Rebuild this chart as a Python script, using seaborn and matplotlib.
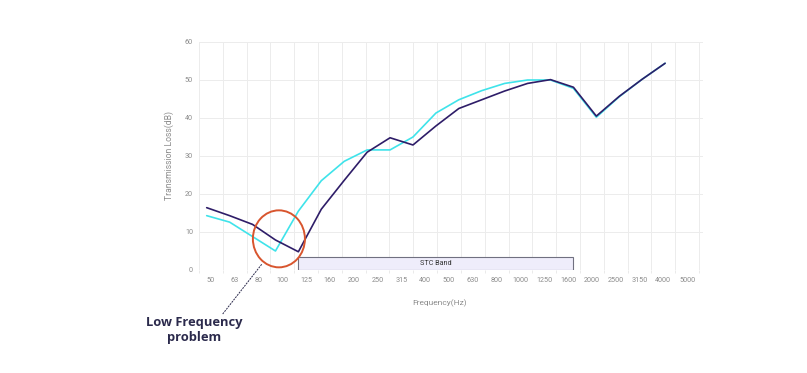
"""Transmission loss curves with the low frequency dip called out."""

import matplotlib

matplotlib.use("Agg")

import matplotlib.pyplot as plt
import numpy as np
import pandas as pd
import seaborn as sns
from matplotlib.lines import Line2D
from matplotlib.patches import Ellipse, Rectangle


FREQ_LABELS = [
    "50", "63", "80", "100", "125", "160", "200", "250", "315", "400", "500",
    "630", "800", "1000", "1250", "1600", "2000", "2500", "3150", "4000", "5000",
]
WALL_A_TL = [
    14.3, 12.6, 8.8, 5.0, 15.5, 23.5, 28.6, 31.6, 31.6, 35.0, 41.3,
    44.8, 47.2, 49.1, 50.0, 50.0, 47.8, 40.2, 45.6, 50.2, 54.4,
]
WALL_B_TL = [
    16.4, 14.3, 12.0, 7.9, 4.8, 16.0, 23.6, 31.0, 34.8, 32.9, 37.9,
    42.5, 44.8, 47.1, 49.1, 50.1, 48.1, 40.5, 45.7, 50.2, 54.4,
]
SERIES_NAMES = ["Wall A", "Wall B"]
STC_RANGE = ("125", "2000")
STC_TOP = 3.4

W, H = 807, 373
TEXT_GREY = "#8c8c8c"
NAVY = "#2b2a4c"


def build_frame() -> pd.DataFrame:
    idx = np.arange(len(FREQ_LABELS))
    parts = []
    for name, vals in zip(SERIES_NAMES, [WALL_A_TL, WALL_B_TL]):
        parts.append(pd.DataFrame({"idx": idx, "freq": FREQ_LABELS, "tl": vals, "series": name}))
    return pd.concat(parts, ignore_index=True)


def main() -> None:
    sns.set_theme(style="white")
    plt.rcParams["font.family"] = ["Roboto", "DejaVu Sans"]

    df = build_frame()
    n = len(FREQ_LABELS)

    fig = plt.figure(figsize=(W / 100, H / 100), dpi=100)
    left, right, top, bottom = 199, 703, 42, 270
    ax = fig.add_axes([left / W, 1 - bottom / H, (right - left) / W, (bottom - top) / H])

    # band axis: labels in the middle of each band, grid on band edges
    ax.set_xlim(-0.5, n - 0.5 + 4 / 23.8)
    ax.set_ylim(0, 60)
    ax.set_xticks(np.arange(n))
    ax.set_xticklabels(FREQ_LABELS)
    ax.set_xticks(np.arange(n + 1) - 0.5, minor=True)
    ax.set_yticks(np.arange(0, 61, 10))
    ax.tick_params(axis="x", which="major", length=0, pad=5.3, labelsize=5.2, labelcolor=TEXT_GREY)
    ax.tick_params(axis="x", which="minor", length=2, width=0.6, color="#e6e6e6", bottom=True)
    ax.tick_params(axis="y", length=0, pad=4.3, labelsize=5.2, labelcolor=TEXT_GREY)
    ax.grid(axis="x", which="minor", color="#ececec", linewidth=0.7)
    ax.grid(axis="y", which="major", color="#ececec", linewidth=0.7)
    ax.grid(axis="x", which="major", visible=False)
    for sp in ax.spines.values():
        sp.set_visible(False)
    ax.set_xlabel("Frequency(Hz)", fontsize=6.0, color=TEXT_GREY)
    ax.set_ylabel("Transmission Loss(dB)", fontsize=6.2, color=TEXT_GREY)
    ax.xaxis.set_label_coords(0.478, -29 / 228)
    ax.yaxis.set_label_coords(-25 / 504, 0.5)

    # point axis for the curves
    ax2 = ax.twiny()
    ax2.set_xlim((left - 206.7) / 22.92, (right - 206.7) / 22.92)
    ax2.set_xticks([])
    for sp in ax2.spines.values():
        sp.set_visible(False)
    ax2.grid(False)

    s0, s1 = FREQ_LABELS.index(STC_RANGE[0]), FREQ_LABELS.index(STC_RANGE[1])
    ax2.add_patch(Rectangle((s0, 0), s1 - s0, STC_TOP, facecolor="#efedfb",
                            edgecolor="#707080", linewidth=0.8, zorder=1))
    ax2.text((s0 + s1) / 2, STC_TOP / 2, "STC Band", ha="center", va="center",
             fontsize=5.2, color="#333333", zorder=2)

    sns.lineplot(
        data=df,
        x="idx",
        y="tl",
        hue="series",
        hue_order=SERIES_NAMES,
        palette=["#3fe3ea", "#2e1d68"],
        linewidth=1.2,
        legend=False,
        ax=ax2,
        zorder=3,
    )
    ax2.set_xlabel("")
    ax2.set_ylabel("")
    ax2.set_ylim(0, 60)

    ax2.add_patch(Ellipse((3.15, 8.2), 2.27, 15, facecolor="none", edgecolor="#d8552e",
                          linewidth=1.4, zorder=4, clip_on=False))

    fig.add_artist(Line2D([261.7 / W, 222.7 / W], [1 - 264.3 / H, 1 - 314 / H],
                          transform=fig.transFigure, color=NAVY, linewidth=0.7,
                          linestyle=(0, (2, 1))))
    fig.text(194 / W, 1 - 330 / H, "Low Frequency\nproblem", ha="center", va="center",
             fontsize=9.3, fontweight="bold", color=NAVY, linespacing=1.15,
             family=["Open Sans", "DejaVu Sans"])

    fig.savefig("out.png", dpi=100)
    plt.close(fig)


if __name__ == "__main__":
    main()
